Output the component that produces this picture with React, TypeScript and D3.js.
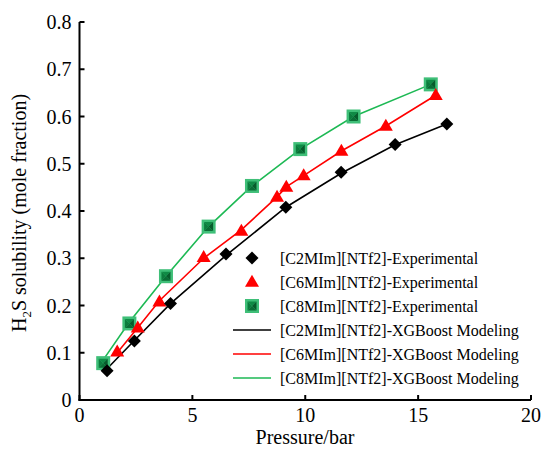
import React from "react";
import * as d3 from "d3";

const c2P = [1.22, 2.43, 4.03, 6.49, 9.14, 11.59, 13.98, 16.27];
const c2S = [0.062, 0.125, 0.204, 0.309, 0.408, 0.482, 0.541, 0.584];
const c6P = [1.67, 2.58, 3.54, 5.5, 7.17, 8.75, 9.16, 9.93, 11.6, 13.57, 15.78];
const c6S = [0.102, 0.153, 0.208, 0.302, 0.358, 0.43, 0.451, 0.475, 0.527, 0.58, 0.645];
const c8P = [1.05, 2.21, 3.83, 5.72, 7.64, 9.78, 12.14, 15.56];
const c8S = [0.078, 0.162, 0.262, 0.367, 0.453, 0.531, 0.6, 0.668];

const c2ModelP = [1.22, 2.43, 4.03, 6.49, 9.14, 11.59, 13.98, 16.27];
const c2ModelS = [0.066, 0.126, 0.204, 0.306, 0.408, 0.48, 0.54, 0.584];
const c6ModelP = [1.67, 2.58, 3.54, 5.5, 7.17, 8.75, 9.16, 9.93, 11.6, 13.57, 15.78];
const c6ModelS = [0.1, 0.153, 0.21, 0.3, 0.36, 0.43, 0.451, 0.475, 0.527, 0.58, 0.645];
const c8ModelP = [1.05, 2.21, 3.83, 5.72, 7.64, 9.78, 12.14, 15.56];
const c8ModelS = [0.085, 0.165, 0.262, 0.367, 0.453, 0.531, 0.6, 0.668];

const xTicks = [0, 5, 10, 15, 20];
const yTicks = [0, 0.1, 0.2, 0.3, 0.4, 0.5, 0.6, 0.7, 0.8];

const legendLabels = [
  "[C2MIm][NTf2]-Experimental",
  "[C6MIm][NTf2]-Experimental",
  "[C8MIm][NTf2]-Experimental",
  "[C2MIm][NTf2]-XGBoost Modeling",
  "[C6MIm][NTf2]-XGBoost Modeling",
  "[C8MIm][NTf2]-XGBoost Modeling",
];

const RED = "#ff0000";
const GREEN = "#1db954";
const FONT = "'Liberation Serif', 'Times New Roman', serif";

function Diamond({ x, y }: { x: number; y: number }) {
  const r = 6.5;
  return <path d={`M${x},${y - r}L${x + r},${y}L${x},${y + r}L${x - r},${y}Z`} fill="#000" />;
}
function Tri({ x, y }: { x: number; y: number }) {
  const w = 7, h = 12;
  return <path d={`M${x},${y - h * 0.6}L${x + w},${y + h * 0.4}L${x - w},${y + h * 0.4}Z`} fill={RED} />;
}
function Sq({ x, y }: { x: number; y: number }) {
  const r = 7;
  const ir = 4.5;
  return (
    <g>
      <rect x={x - r} y={y - r} width={2 * r} height={2 * r} fill="#3fbf78" />
      <path d={`M${x - ir},${y - ir}L${x + ir},${y - ir}L${x},${y}Z`} fill="#0f8a45" />
      <path d={`M${x - ir},${y - ir}L${x - ir},${y + ir}L${x},${y}Z`} fill="#0c7c3d" />
      <path d={`M${x + ir},${y - ir}L${x + ir},${y + ir}L${x},${y}Z`} fill="#075c2c" />
      <path d={`M${x - ir},${y + ir}L${x + ir},${y + ir}L${x},${y}Z`} fill="#0a6d35" />
    </g>
  );
}

export default function App() {
  const W = 544, H = 453;
  const x = d3.scaleLinear().domain([0, 20]).range([79.5, 531]);
  const y = d3.scaleLinear().domain([0, 0.8]).range([400, 22]);
  const line = d3.line<[number, number]>().x((d) => x(d[0])).y((d) => y(d[1]));
  const zip = (a: number[], b: number[]) => a.map((v, i) => [v, b[i]] as [number, number]);

  const legX = 252, legTextX = 280, legY0 = 258, legDy = 24;

  return (
    <svg width={W} height={H} style={{ position: "absolute", left: 0, top: 0, fontFamily: FONT }}>
      <rect width={W} height={H} fill="#fff" />
      <path d={line(zip(c2ModelP, c2ModelS)) || ""} fill="none" stroke="#000" strokeWidth={1.6} />
      <path d={line(zip(c6ModelP, c6ModelS)) || ""} fill="none" stroke={RED} strokeWidth={1.6} />
      <path d={line(zip(c8ModelP, c8ModelS)) || ""} fill="none" stroke={GREEN} strokeWidth={1.6} />
      {c8P.map((p, i) => <Sq key={"g" + i} x={x(p)} y={y(c8S[i])} />)}
      {c6P.map((p, i) => <Tri key={"r" + i} x={x(p)} y={y(c6S[i])} />)}
      {c2P.map((p, i) => <Diamond key={"b" + i} x={x(p)} y={y(c2S[i])} />)}
      <line x1={x(0)} x2={x(0)} y1={y(0) + 1} y2={y(0.8)} stroke="#000" strokeWidth={2} />
      <line x1={x(0) - 1} x2={x(20)} y1={y(0)} y2={y(0)} stroke="#000" strokeWidth={2} />
      {yTicks.map((t) => (
        <g key={"yt" + t}>
          <line x1={x(0)} x2={x(0) + 5} y1={y(t)} y2={y(t)} stroke="#000" strokeWidth={2} />
          <text x={x(0) - 8} y={y(t)} dy="0.35em" textAnchor="end" fontSize={20}>{t === 0 ? "0" : t.toFixed(1)}</text>
        </g>
      ))}
      {xTicks.map((t) => (
        <g key={"xt" + t}>
          <line x1={x(t)} x2={x(t)} y1={y(0)} y2={y(0) - 5} stroke="#000" strokeWidth={2} />
          <text x={x(t)} y={415} dy="0.35em" textAnchor="middle" fontSize={20}>{t}</text>
        </g>
      ))}
      <text x={305} y={437} dy="0.35em" textAnchor="middle" fontSize={20}>Pressure/bar</text>
      <text transform="translate(19,213) rotate(-90)" textAnchor="middle" dy="0.35em" fontSize={20}>
        H<tspan fontSize={13} dy="5">2</tspan><tspan dy="-5">S solubility (mole fraction)</tspan>
      </text>
      {legendLabels.map((lab, i) => {
        const cy = legY0 + i * legDy;
        let sym: React.ReactNode = null;
        if (i === 0) sym = <Diamond x={legX} y={cy} />;
        else if (i === 1) sym = <Tri x={legX} y={cy} />;
        else if (i === 2) sym = <Sq x={legX} y={cy} />;
        else sym = <line x1={233} x2={271} y1={cy} y2={cy} stroke={["#000", RED, GREEN][i - 3]} strokeWidth={1.6} />;
        return (
          <g key={"lg" + i}>
            {sym}
            <text x={legTextX} y={cy} dy="0.35em" fontSize={16}>{lab}</text>
          </g>
        );
      })}
    </svg>
  );
}
